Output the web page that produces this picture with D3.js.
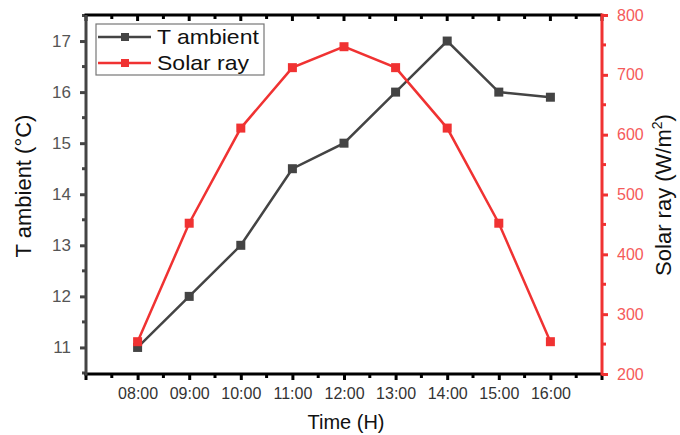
<!DOCTYPE html>
<html>
<head>
<meta charset="utf-8">
<script src="https://cdn.jsdelivr.net/npm/d3@7"></script>
<style>
  body { margin: 0; background: #fff; }
  text { font-family: Arial, "Liberation Sans", sans-serif; }
</style>
</head>
<body>
<script>
// data
const hours = ["08:00", "09:00", "10:00", "11:00", "12:00", "13:00", "14:00", "15:00", "16:00"];
const tAmbient = [11, 12, 13, 14.5, 15, 16, 17, 16, 15.9];
const solarRay = [254, 452, 611, 712, 747, 712, 611, 452, 254];
const leftTicks = [11, 12, 13, 14, 15, 16, 17];
const rightTicks = [200, 300, 400, 500, 600, 700, 800];

let width = 680;
let height = 435;
let marginTop = 15;
let marginRight = 78;
let marginBottom = 61;
let marginLeft = 86;

const gray = "#444";
const red = "#f03232";

const svg = d3.select("body").append("svg")
    .attr("width", width)
    .attr("height", height)
    .attr("viewBox", [0, 0, width, height]);

// x: index position, one empty slot on each side
const x = d3.scaleLinear()
    .domain([-1, hours.length])
    .range([marginLeft, width - marginRight]);

const yL = d3.scaleLinear()
    .domain([10.48, 17.51])
    .range([height - marginBottom, marginTop]);

const yR = d3.scaleLinear()
    .domain([200, 800])
    .range([height - marginBottom, marginTop]);

const majorX = d3.range(-1, hours.length + 1);
const minorX = d3.range(-0.5, hours.length, 1);

// bottom axis
const gx = svg.append("g")
    .attr("transform", `translate(0,${height - marginBottom})`);
gx.call(d3.axisBottom(x).tickValues(d3.range(0, hours.length))
        .tickFormat(i => hours[i]).tickSize(6).tickSizeOuter(0))
    .call(g => g.select(".domain").remove())
    .call(g => g.selectAll(".tick line").attr("stroke", "#000").attr("stroke-width", 3))
    .call(g => g.selectAll("text").attr("fill", "#333").style("font-size", "16px").attr("dy", "1.0em"));
gx.selectAll(".extra").data(minorX.concat([-1, hours.length])).join("line")
    .attr("x1", d => x(d)).attr("x2", d => x(d))
    .attr("y1", 0).attr("y2", d => Number.isInteger(d) ? 6 : 4)
    .attr("stroke", "#000").attr("stroke-width", 3);

// top axis (ticks only, pointing in)
const gt = svg.append("g").attr("transform", `translate(0,${marginTop})`);
gt.selectAll("line").data(majorX.concat(minorX)).join("line")
    .attr("x1", d => x(d)).attr("x2", d => x(d))
    .attr("y1", 0).attr("y2", d => Number.isInteger(d) ? 6 : 4)
    .attr("stroke", "#000").attr("stroke-width", 3);

// left axis
const gl = svg.append("g").attr("transform", `translate(${marginLeft},0)`);
gl.call(d3.axisLeft(yL).tickValues(leftTicks).tickFormat(d3.format("d")).tickSize(6).tickSizeOuter(0))
    .call(g => g.select(".domain").remove())
    .call(g => g.selectAll(".tick line").attr("stroke", gray).attr("stroke-width", 3))
    .call(g => g.selectAll("text").attr("fill", "#555").style("font-size", "17px").attr("x", -15));
gl.selectAll(".minor").data(d3.range(10.5, 17.6, 1)).join("line")
    .attr("x1", 0).attr("x2", -4)
    .attr("y1", d => yL(d)).attr("y2", d => yL(d))
    .attr("stroke", gray).attr("stroke-width", 3);

// right axis
const gr = svg.append("g").attr("transform", `translate(${width - marginRight},0)`);
gr.call(d3.axisRight(yR).tickValues(rightTicks).tickSize(6).tickSizeOuter(0))
    .call(g => g.select(".domain").remove())
    .call(g => g.selectAll(".tick line").attr("stroke", red).attr("stroke-width", 3))
    .call(g => g.selectAll("text").attr("fill", "#f55a5a").style("font-size", "16px").attr("x", 15));
gr.selectAll(".minor").data(d3.range(250, 800, 100)).join("line")
    .attr("x1", 0).attr("x2", 4)
    .attr("y1", d => yR(d)).attr("y2", d => yR(d))
    .attr("stroke", red).attr("stroke-width", 3);

// frame lines
svg.append("line")
    .attr("x1", marginLeft - 1.5).attr("x2", width - marginRight)
    .attr("y1", marginTop).attr("y2", marginTop)
    .attr("stroke", "#000").attr("stroke-width", 3);
svg.append("line")
    .attr("x1", marginLeft - 1.5).attr("x2", width - marginRight)
    .attr("y1", height - marginBottom).attr("y2", height - marginBottom)
    .attr("stroke", "#000").attr("stroke-width", 3);
svg.append("line")
    .attr("x1", marginLeft).attr("x2", marginLeft)
    .attr("y1", marginTop).attr("y2", height - marginBottom + 1.5)
    .attr("stroke", gray).attr("stroke-width", 3);
svg.append("line")
    .attr("x1", width - marginRight).attr("x2", width - marginRight)
    .attr("y1", marginTop - 1.5).attr("y2", height - marginBottom + 1.5)
    .attr("stroke", red).attr("stroke-width", 3);

// series
const lineL = d3.line().x((d, i) => x(i)).y(d => yL(d));
const lineR = d3.line().x((d, i) => x(i)).y(d => yR(d));

svg.append("path").datum(tAmbient)
    .attr("fill", "none").attr("stroke", gray).attr("stroke-width", 2.5)
    .attr("d", lineL);
svg.append("g").selectAll("rect").data(tAmbient).join("rect")
    .attr("x", (d, i) => x(i) - 4.5).attr("y", d => yL(d) - 4.5)
    .attr("width", 9).attr("height", 9).attr("fill", gray);

svg.append("path").datum(solarRay)
    .attr("fill", "none").attr("stroke", red).attr("stroke-width", 2.5)
    .attr("d", lineR);
svg.append("g").selectAll("rect").data(solarRay).join("rect")
    .attr("x", (d, i) => x(i) - 4.5).attr("y", d => yR(d) - 4.5)
    .attr("width", 9).attr("height", 9).attr("fill", red);

// legend
const legend = svg.append("g");
legend.append("rect")
    .attr("x", 96).attr("y", 24).attr("width", 168).attr("height", 51)
    .attr("fill", "#fff").attr("stroke", "#777").attr("stroke-width", 1.2);
const items = [{ name: "T ambient", color: gray }, { name: "Solar ray", color: red }];
items.forEach((it, i) => {
  const yy = 37 + i * 26;
  legend.append("line").attr("x1", 98).attr("x2", 151).attr("y1", yy).attr("y2", yy)
      .attr("stroke", it.color).attr("stroke-width", 2.5);
  legend.append("rect").attr("x", 121).attr("y", yy - 4).attr("width", 8).attr("height", 8)
      .attr("fill", it.color);
  legend.append("text")
      .attr("transform", `translate(157,${yy + 7}) scale(1.15,1)`)
      .attr("fill", "#111").style("font-size", "20px").text(it.name);
});

// axis titles
svg.append("text")
    .attr("transform", `translate(31,186) rotate(-90)`)
    .attr("text-anchor", "middle").attr("fill", "#111").style("font-size", "22px")
    .text("T ambient (°C)");

const rt = svg.append("text")
    .attr("transform", `translate(671,195) rotate(-90)`)
    .attr("text-anchor", "middle").attr("fill", "#111").style("font-size", "22px");
rt.append("tspan").text("Solar ray (W/m");
rt.append("tspan").attr("dy", -9).style("font-size", "14px").text("2");
rt.append("tspan").attr("dy", 9).text(")");

svg.append("text")
    .attr("x", 346).attr("y", 429)
    .attr("text-anchor", "middle").attr("fill", "#111").style("font-size", "20px")
    .text("Time (H)");
</script>
</body>
</html>
